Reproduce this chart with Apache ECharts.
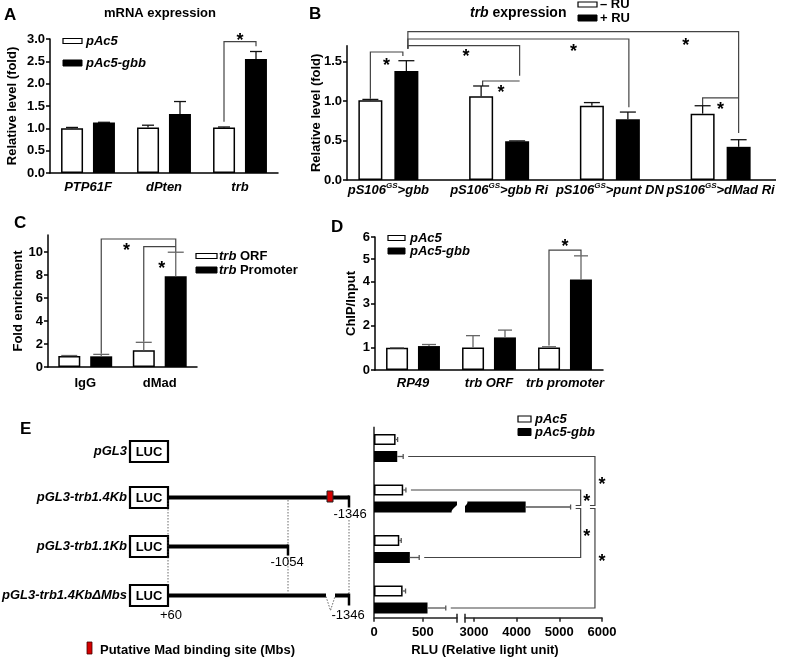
<!DOCTYPE html>
<html><head><meta charset="utf-8">
<script src="https://cdn.jsdelivr.net/npm/echarts@6/dist/echarts.min.js"></script>
<style>html,body{margin:0;padding:0;background:#fff}#c{width:787px;height:661px}</style>
</head><body><div id="c"></div>
<script>
// ---------------- DATA ----------------
// Panel A: mRNA expression
const catsA = ['PTP61F', 'dPten', 'trb'];
const aCtrl = [1.00, 1.02, 1.02];
const aCtrlErr = [0.02, 0.05, 0.01];
const aGbb = [1.13, 1.32, 2.55];
const aGbbErr = [0.005, 0.28, 0.17];
const ticksA = [0, 0.5, 1.0, 1.5, 2.0, 2.5, 3.0];

// Panel B: trb expression (- RU / + RU)
const catsB = ['gbb', 'gbb Ri', 'punt DN', 'dMad Ri'];
const bMinus = [1.01, 1.06, 0.94, 0.84];
const bMinusErr = [0.01, 0.13, 0.04, 0.10];
const bPlus = [1.38, 0.49, 0.77, 0.42];
const bPlusErr = [0.13, 0.005, 0.09, 0.09];
const ticksB = [0, 0.5, 1.0, 1.5];

// Panel C: Fold enrichment
const catsC = ['IgG', 'dMad'];
const cOrf = [0.95, 1.45];
const cOrfErr = [0.05, 0.70];
const cProm = [0.93, 7.9];
const cPromErr = [0.17, 2.1];
const ticksC = [0, 2, 4, 6, 8, 10];

// Panel D: ChIP/Input
const catsD = ['RP49', 'trb ORF', 'trb promoter'];
const dCtrl = [1.0, 1.02, 1.02];
const dCtrlErr = [0.005, 0.53, 0.03];
const dGbb = [1.08, 1.47, 4.08];
const dGbbErr = [0.07, 0.33, 1.07];
const ticksD = [0, 1, 2, 3, 4, 5, 6];

// Panel E: luciferase RLU
const catsE = ['pGL3', 'pGL3-trb1.4Kb', 'pGL3-trb1.1Kb', 'pGL3-trb1.4Kb\u0394Mbs'];
const eCtrl = [221, 299, 259, 293];
const eCtrlErr = [21, 28, 20, 30];
const eGbb = [238, 4211, 367, 548];
const eGbbErr = [61, 1053, 96, 187];
const ticksELow = [0, 500];
const ticksEHigh = [3000, 4000, 5000, 6000];

// ---------------- STYLE / LAYOUT ----------------
const F = '"Liberation Sans", Arial, Helvetica, sans-serif';
const chart = echarts.init(document.getElementById('c'), null, {renderer: 'canvas', width: 787, height: 661});
const whiteBar = {color: '#fff', borderColor: '#000', borderWidth: 1.5};
const blackBar = {color: '#000'};
const E2MIN = 2790, E2MAX = 6000, E1MAX = 850;

const grids = [
  {left: 50, top: 39, width: 228, height: 134},        // A
  {left: 333, top: 45.7, width: 443, height: 134.3},   // B
  {left: 48, top: 235, width: 149, height: 132},       // C
  {left: 375, top: 237, width: 228, height: 133},      // D
  {left: 374, top: 422.75, width: 83, height: 202},    // E low segment
  {left: 465, top: 422.75, width: 137, height: 202}    // E high segment
];

const lbl = {fontFamily: F, fontWeight: 'bold', fontSize: 13, color: '#000'};
const axLine = {show: true, onZero: false, lineStyle: {color: '#000', width: 1.5}};
const nameStyle = {fontFamily: F, fontWeight: 'bold', fontSize: 13, color: '#000'};

function valY(g, max, ticks, fmt, name, gap, extra) {
  return Object.assign({
    gridIndex: g, type: 'value', min: 0, max: max,
    splitLine: {show: false},
    axisLine: axLine,
    axisTick: {show: true, length: 4, customValues: ticks, lineStyle: {color: '#000', width: 1.5}},
    axisLabel: Object.assign({margin: 5, customValues: ticks, formatter: fmt}, lbl),
    name: name, nameLocation: 'middle', nameGap: gap, nameTextStyle: nameStyle
  }, extra || {});
}
function catX(g, data, labelExtra, extra) {
  return Object.assign({
    gridIndex: g, type: 'category', data: data,
    axisLine: axLine, axisTick: {show: false},
    axisLabel: Object.assign({interval: 0}, lbl, labelExtra)
  }, extra || {});
}
function bars(g, data, style, w, gap, extra) {
  return Object.assign({type: 'bar', xAxisIndex: g, yAxisIndex: g, data: data, barWidth: w, barGap: gap,
    itemStyle: style, z: 2, silent: true}, extra || {});
}
function errSeries(g, vals, errs, off, color, capW, horizontal) {
  return {
    type: 'custom', xAxisIndex: g, yAxisIndex: g, z: 5, silent: true,
    data: vals.map((v, i) => horizontal ? [v, i, errs[i]] : [i, v, errs[i]]),
    renderItem: function (params, api) {
      const cs = params.coordSys;
      const e = api.value(2);
      let L;
      if (!horizontal) {
        const c = api.value(0), v = api.value(1);
        const p0 = api.coord([c, v]), p1 = api.coord([c, v + e]);
        const x = p0[0] + off;
        L = [[x, p0[1], x, p1[1]], [x - capW / 2, p1[1], x + capW / 2, p1[1]]];
      } else {
        const v = api.value(0), c = api.value(1);
        const p0 = api.coord([v, c]), p1 = api.coord([v + e, c]);
        if (p1[0] > cs.x + cs.width + 1 || p1[0] < cs.x) return null;
        const y = p0[1] + off;
        const x0 = Math.max(p0[0], cs.x);
        L = [[x0, y, p1[0], y], [p1[0], y - capW / 2, p1[0], y + capW / 2]];
      }
      return {type: 'group', children: L.map(l => ({type: 'line',
        shape: {x1: l[0], y1: l[1], x2: l[2], y2: l[3]}, style: {stroke: color, lineWidth: 1.3}}))};
    }
  };
}

const fmt1 = v => v.toFixed(1);
const fmt0 = v => String(v);
const richB = {
  a: {fontFamily: F, fontWeight: 'bold', fontStyle: 'italic', fontSize: 13, color: '#000', lineHeight: 16},
  s: {fontFamily: F, fontWeight: 'bold', fontStyle: 'italic', fontSize: 8, color: '#000', lineHeight: 9, verticalAlign: 'top'}
};
const hiddenCat = (g) => ({gridIndex: g, type: 'category', data: catsE, inverse: true,
  axisLine: {show: false}, axisTick: {show: false}, axisLabel: {show: false}});
const eLbl = Object.assign({}, lbl, {margin: 8, formatter: fmt0});
function valXE(g, min, max, ticks) {
  return {gridIndex: g, type: 'value', min: min, max: max, offset: -7,
    splitLine: {show: false}, axisLine: {show: true, lineStyle: {color: '#222', width: 1.5}},
    axisTick: {show: true, length: 4, customValues: ticks, lineStyle: {color: '#222', width: 1.5}},
    axisLabel: Object.assign({customValues: ticks}, eLbl)};
}

const option = {
  animation: false,
  backgroundColor: '#fff',
  grid: grids,
  xAxis: [
    catX(0, catsA, {margin: 8, fontStyle: 'italic'}),
    catX(1, catsB, {margin: 2, formatter: v => '{a|pS106}{s|GS}{a|>' + v + '}', rich: richB}, {axisLine: {show: false}}),
    catX(2, catsC, {margin: 10}),
    catX(3, catsD, {margin: 7, fontStyle: 'italic'}),
    valXE(4, 0, E1MAX, ticksELow),
    valXE(5, E2MIN, E2MAX, ticksEHigh)
  ],
  yAxis: [
    valY(0, 3, ticksA, fmt1, 'Relative level (fold)', 31, {interval: 0.5}),
    valY(1, 1.7, ticksB, fmt1, 'Relative level (fold)', 24, {offset: -14, interval: 0.5, nameMoveOverlap: false}),
    valY(2, 11.5, ticksC, fmt0, 'Fold enrichment', 19, {interval: 2}),
    valY(3, 6, ticksD, fmt0, 'ChIP/Input', 17, {interval: 1}),
    hiddenCat(4),
    hiddenCat(5)
  ],
  series: [
    bars(0, aCtrl, whiteBar, 22, '45%'), bars(0, aGbb, blackBar, 22, '45%'),
    errSeries(0, aCtrl, aCtrlErr, -16, '#111', 12), errSeries(0, aGbb, aGbbErr, 16, '#111', 12),

    bars(1, bMinus, whiteBar, 24, '50%'), bars(1, bPlus, blackBar, 24, '50%'),
    errSeries(1, bMinus, bMinusErr, -18, '#111', 16), errSeries(1, bPlus, bPlusErr, 18, '#111', 16),

    bars(2, cOrf, whiteBar, 22, '45%'), bars(2, cProm, blackBar, 22, '45%'),
    errSeries(2, cOrf, cOrfErr, -16, '#666', 16), errSeries(2, cProm, cPromErr, 16, '#666', 16),

    bars(3, dCtrl, whiteBar, 22, '45%'), bars(3, dGbb, blackBar, 22, '45%'),
    errSeries(3, dCtrl, dCtrlErr, -16, '#666', 14), errSeries(3, dGbb, dGbbErr, 16, '#666', 14),

    bars(4, eCtrl, whiteBar, 11, '55%'), bars(4, eGbb, blackBar, 11, '55%'),
    errSeries(4, eCtrl, eCtrlErr, -8.5, '#555', 5, true), errSeries(4, eGbb, eGbbErr, 8.5, '#555', 5, true),
    bars(5, eCtrl.map(v => v > E2MIN ? v : '-'), whiteBar, 11, '55%'),
    bars(5, eGbb.map(v => v > E2MIN ? v : '-'), blackBar, 11, '55%'),
    errSeries(5, eCtrl, eCtrlErr, -8.5, '#555', 5, true), errSeries(5, eGbb, eGbbErr, 8.5, '#555', 5, true)
  ]
};
chart.setOption(option);

// ---------------- ANNOTATIONS ----------------
function px(g, x, y) { return chart.convertToPixel({xAxisIndex: g, yAxisIndex: g}, [x, y]); }
function line(x1, y1, x2, y2, stroke, w, dash) {
  return {type: 'line', silent: true, shape: {x1, y1, x2, y2}, style: {stroke: stroke || '#000', lineWidth: w || 1, lineDash: dash || null}};
}
function poly(points, stroke, w, dash) {
  return {type: 'polyline', silent: true, shape: {points}, style: {stroke: stroke, lineWidth: w, fill: null, lineDash: dash || null}};
}
function rect(x, y, w, h, fill, stroke, lw) {
  return {type: 'rect', silent: true, shape: {x, y, width: w, height: h}, style: {fill: fill, stroke: stroke || null, lineWidth: lw || 0}};
}
function text(x, y, str, font, align, valign, extra) {
  return {type: 'text', silent: true, style: Object.assign({x, y, text: str, font: font, fill: '#000',
    align: align || 'left', verticalAlign: valign || 'middle', textAlign: align || 'left', textVerticalAlign: valign || 'middle'}, extra || {})};
}
const fB = s => 'bold ' + s + 'px ' + F;
const fBI = s => 'italic bold ' + s + 'px ' + F;
const fN = s => s + 'px ' + F;
const rich = (s) => ({
  i: {fontFamily: F, fontWeight: 'bold', fontStyle: 'italic', fontSize: s, fill: '#000'},
  n: {fontFamily: F, fontWeight: 'bold', fontSize: s, fill: '#000'}
});
function star(x, y) { return text(x, y + 4, '*', fB(18), 'center', 'middle'); }

const G = [];
// panel letters and titles
G.push(text(4, 15, 'A', fB(17)));
G.push(text(309, 14, 'B', fB(17)));
G.push(text(14, 223, 'C', fB(17)));
G.push(text(331, 227, 'D', fB(17)));
G.push(text(20, 429, 'E', fB(17)));
G.push(text(160, 13, 'mRNA expression', fB(13), 'center'));
G.push(text(470, 13, '{i|trb} {n|expression}', fB(14), 'left', 'middle', {rich: rich(14)}));

// legends
function legend(x, y1, y2, w, h, t1, t2, tx, isRich) {
  const ex = isRich ? {rich: rich(13)} : {};
  const font = isRich ? fB(13) : fBI(13);
  G.push(rect(x, y1 - h / 2, w, h, '#fff', '#000', 1.2));
  G.push(rect(x, y2 - h / 2 - 0.5, w, h + 1, '#000', '#000', 1));
  G.push(text(tx, y1, t1, font, 'left', 'middle', ex));
  G.push(text(tx, y2, t2, font, 'left', 'middle', ex));
}
legend(63, 41, 63, 19, 5, 'pAc5', 'pAc5-gbb', 86);
legend(578, 4.5, 18, 19, 5, '{n|\u2013 RU}', '{n|+ RU}', 600, true);
legend(196, 256, 270, 21, 5, '{i|trb} {n|ORF}', '{i|trb} {n|Promoter}', 219, true);
legend(388, 238, 251, 17, 5, 'pAc5', 'pAc5-gbb', 410);
legend(518, 419, 432, 13, 6, 'pAc5', 'pAc5-gbb', 535);

// B x-axis line (starts at the y axis)
{
  const y0 = px(1, 0, 0)[1];
  G.push(line(grids[1].left + 14, y0, grids[1].left + grids[1].width, y0, '#000', 1.5));
}

// vertical-bar significance brackets
const bracketsV = [
  {g: 0, off: 16, a: [2, 0, 1.15, 0], b: [2, 1, 2.84, 0], top: 2.94, sf: 0.5, sd: -5},
  {g: 1, off: 18, a: [0, 0, 1.03, 0], b: [0, 1, 1.57, -3.5], top: 1.62, sf: 0.5, sd: 10},
  {g: 1, off: 18, a: [0, 1, 1.66, 1.5], b: [1, 1, 1.32, 2.5], top: 1.70, sf: 0.52, sd: 7},
  {g: 1, off: 18, a: [0, 1, 1.66, 1.5], b: [2, 1, 0.92, 1], top: 1.785, sf: 0.75, sd: 9},
  {g: 1, off: 18, a: [0, 1, 1.66, 1.5], b: [3, 1, 0.595, 0], top: 1.877, sf: 0.84, sd: 10},
  {g: 1, off: 18, a: [1, 0, 1.19, 1.5], b: [1, 1, null, 2.5], top: 1.253, sf: 0.5, sd: 8},
  {g: 1, off: 18, a: [3, 0, 0.94, 0], b: [3, 1, null, 0], top: 1.04, sf: 0.5, sd: 8},
  {g: 2, off: 16, a: [0, 1, 1.15, 0], b: [1, 1, 10.0, 0], top: 11.15, sf: 0.34, sd: 8},
  {g: 2, off: 16, a: [1, 0, 2.2, 0], b: [1, 1, null, 0], top: 10.48, sf: 0.56, sd: 18},
  {g: 3, off: 16, a: [2, 0, 1.1, 0], b: [2, 1, 5.15, 0], top: 5.41, sf: 0.5, sd: -7}
];
bracketsV.forEach(br => {
  const xa = px(br.g, br.a[0], 0)[0] + (br.a[1] ? br.off : -br.off) + br.a[3];
  const xb = px(br.g, br.b[0], 0)[0] + (br.b[1] ? br.off : -br.off) + br.b[3];
  const yt = px(br.g, 0, br.top)[1];
  const ya = px(br.g, 0, br.a[2])[1];
  const yb = br.b[2] == null ? yt : px(br.g, 0, br.b[2])[1];
  G.push(poly([[xa, ya], [xa, yt], [xb, yt], [xb, yb]], '#444', 1.2));
  G.push(star(xa + (xb - xa) * br.sf, yt + br.sd));
});

// horizontal brackets (panel E)
function eRowY(row, s) { return px(4, 0, row)[1] + (s ? 8.5 : -8.5); }
function ePx(v, row) { return v <= E1MAX ? px(4, v, row)[0] : px(5, v, row)[0]; }
const bracketsH = [
  {X: 5835, a: {row: 0, s: 1, long: true}, b: {row: 1, s: 1, long: false, dy: -1.5}, sdx: 7},
  {X: 5500, a: {row: 1, s: 0, long: true}, b: {row: 1, s: 1, long: false, dy: -1.5}, sdx: 6},
  {X: 5500, a: {row: 1, s: 1, long: false, dy: 1.5}, b: {row: 2, s: 1, long: true}, sdx: 6},
  {X: 5835, a: {row: 1, s: 1, long: false, dy: 1.5}, b: {row: 3, s: 1, long: true}, sdx: 7}
];
bracketsH.forEach(br => {
  const X = px(5, br.X, 0)[0];
  const endPt = (e) => {
    const y = eRowY(e.row, e.s) + (e.dy || 0);
    let x;
    if (e.long) {
      const vals = e.s ? eGbb : eCtrl, errs = e.s ? eGbbErr : eCtrlErr;
      x = ePx(vals[e.row] + errs[e.row], e.row) + 5;
    } else x = X - 5;
    return [x, y];
  };
  const A = endPt(br.a), B = endPt(br.b);
  G.push(poly([A, [X, A[1]], [X, B[1]], B], '#444', 1.2));
  G.push(star(X + br.sdx, (A[1] + B[1]) / 2));
});

// E axes decorations: y-axis line, break marks, wavy break, axis name
{
  const yAx = grids[4].top + grids[4].height - 7;
  const x0 = grids[4].left, x1 = grids[4].left + grids[4].width, x2 = grids[5].left;
  G.push(line(x0, grids[4].top + 4, x0, yAx, '#222', 1.5));
  G.push(line(x1, yAx - 4, x1, yAx + 5, '#222', 1.5));
  G.push(line(x2, yAx - 4, x2, yAx + 5, '#222', 1.5));
  const yc = eRowY(1, 1);
  const ptsL = [], ptsR = [];
  for (let i = 0; i <= 16; i++) {
    const t = i / 16, y = yc - 10 + 20 * t;
    const xw = x1 - 2 + 3.5 * Math.sin(2 * Math.PI * t);
    ptsL.push([xw, y]); ptsR.push([xw + 9, y]);
  }
  G.push({type: 'polygon', silent: true, z: 100, shape: {points: ptsL.concat(ptsR.reverse())}, style: {fill: '#fff'}});
  G.push(text((x0 + grids[5].left + grids[5].width) / 2 - 3, 650, 'RLU (Relative light unit)', fB(13), 'center'));
}

// E schematic (constructs)
{
  const rows = [451.5, 497.5, 546.5, 595.5];
  catsE.forEach((c, i) => {
    G.push(text(127, rows[i], c, fBI(13), 'right'));
    G.push(rect(130, rows[i] - 10.5, 38, 21, '#fff', '#000', 2.2));
    G.push(text(149, rows[i] + 0.5, 'LUC', fB(13), 'center'));
  });
  const dot = [1.5, 1.5];
  G.push(line(168, 500, 168, 585, '#444', 0.8, dot));
  G.push(line(288, 500, 288, 593, '#444', 0.8, dot));
  G.push(line(349, 520, 349, 593, '#444', 0.8, dot));
  G.push(line(169, rows[1], 349, rows[1], '#000', 4));
  G.push(line(349, rows[1] - 2, 349, rows[1] + 10, '#000', 2.5));
  G.push(rect(327, 491, 6, 11, '#d40000', '#222', 1));
  G.push(line(169, rows[2], 288, rows[2], '#000', 4));
  G.push(line(288, rows[2] - 2, 288, rows[2] + 9, '#000', 2.5));
  G.push(line(169, rows[3], 326, rows[3], '#000', 4));
  G.push(line(335, rows[3], 349, rows[3], '#000', 4));
  G.push(line(349, rows[3] - 2, 349, rows[3] + 10, '#000', 2.5));
  G.push(poly([[326, rows[3] + 1], [330.5, rows[3] + 15], [335, rows[3] + 1]], '#555', 0.9, [1.5, 1.5]));
  G.push(text(350, 514, '-1346', fN(13), 'center'));
  G.push(text(287, 562, '-1054', fN(13), 'center'));
  G.push(text(171, 615, '+60', fN(13), 'center'));
  G.push(text(348, 615, '-1346', fN(13), 'center'));
  G.push(rect(87, 642, 5, 12, '#d40000', '#400', 0.8));
  G.push(text(100, 650, 'Putative Mad binding site (Mbs)', fB(13)));
}

chart.setOption({graphic: {elements: G}});
</script>
</body></html>
